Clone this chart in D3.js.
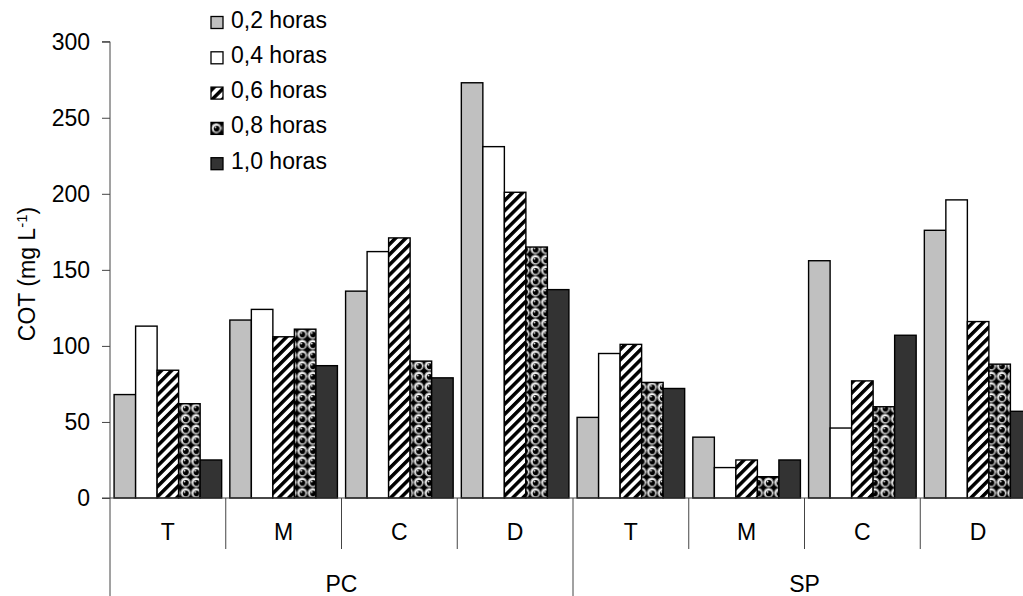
<!DOCTYPE html>
<html lang="pt">
  <head>
    <meta charset="UTF-8" />
    <title>COT</title>
    <script src="https://d3js.org/d3.v7.min.js"></script>
    <style>
      body { margin: 0; background: #fff; }
      text { font-family: "Liberation Sans", Arial, sans-serif; fill: #000; }
    </style>
  </head>
  <body>
    <div id="chart"></div>
    <script>
      // data
      const groups = ["PC", "SP"];
      const categories = ["T", "M", "C", "D", "T", "M", "C", "D"];
      const seriesNames = ["0,2 horas", "0,4 horas", "0,6 horas", "0,8 horas", "1,0 horas"];
      const h02 = [68, 117, 136, 273, 53, 40, 156, 176];
      const h04 = [113, 124, 162, 231, 95, 20, 46, 196];
      const h06 = [84, 106, 171, 201, 101, 25, 77, 116];
      const h08 = [62, 111, 90, 165, 76, 14, 60, 88];
      const h10 = [25, 87, 79, 137, 72, 25, 107, 57];
      const yTicks = [0, 50, 100, 150, 200, 250, 300];

      const seriesValues = [h02, h04, h06, h08, h10];
      const fills = ["#c0c0c0", "#ffffff", "url(#hatch)", "url(#balls)", "#333333"];

      const width = 1023, height = 596;
      const plotLeft = 110, plotRight = 1036, plotTop = 41.7, base = 498;
      const fontSize = "23px";

      const svg = d3.select("#chart").append("svg")
        .attr("width", width).attr("height", height);

      // patterns
      const defs = svg.append("defs");
      const hatch = defs.append("pattern")
        .attr("id", "hatch")
        .attr("patternUnits", "userSpaceOnUse")
        .attr("width", 7.2).attr("height", 7.2)
        .attr("patternTransform", "rotate(45)");
      hatch.append("rect").attr("width", 7.2).attr("height", 7.2).attr("fill", "#fff");
      hatch.append("rect").attr("width", 3.5).attr("height", 7.2).attr("fill", "#000");

      const balls = defs.append("pattern")
        .attr("id", "balls")
        .attr("patternUnits", "userSpaceOnUse")
        .attr("width", 10.6).attr("height", 10.6);
      balls.append("rect").attr("width", 10.6).attr("height", 10.6).attr("fill", "#000");
      balls.append("circle").attr("cx", 5.3).attr("cy", 5.3).attr("r", 4.6).attr("fill", "#fff");
      balls.append("circle").attr("cx", 5.3).attr("cy", 5.3).attr("r", 4.6)
        .attr("fill", "none").attr("stroke", "#999").attr("stroke-width", 1);
      balls.append("circle").attr("cx", 5.6).attr("cy", 5.8).attr("r", 3).attr("fill", "#000");
      balls.append("circle").attr("cx", 4.4).attr("cy", 4.4).attr("r", 0.9).attr("fill", "#fff");

      // scales
      const keys = categories.map((c, i) => i);
      const x0 = d3.scaleBand().domain(keys).range([plotLeft, plotRight]).padding(0);
      const x1 = d3.scaleBand().domain(d3.range(seriesNames.length))
        .range([0, x0.bandwidth()]).paddingInner(0).paddingOuter(0.19);
      const y = d3.scaleLinear().domain([0, 300]).range([base, plotTop]);

      // y axis
      const yAxis = svg.append("g")
        .attr("transform", `translate(${plotLeft},0)`)
        .call(d3.axisLeft(y).tickValues(yTicks).tickSize(8).tickPadding(12));
      yAxis.select(".domain").attr("stroke", "#444").attr("d", `M-8,${plotTop}H0V${base}`);
      yAxis.selectAll(".tick line").attr("stroke", "#444");
      yAxis.selectAll(".tick text")
        .style("font-size", fontSize).attr("fill", "#000")
        .attr("font-family", "Liberation Sans, Arial, sans-serif");

      // bars
      const barG = svg.append("g");
      seriesValues.forEach((vals, s) => {
        barG.selectAll(null)
          .data(vals)
          .enter()
          .append("rect")
          .attr("x", (d, i) => x0(i) + x1(s))
          .attr("y", (d) => y(d))
          .attr("width", x1.bandwidth())
          .attr("height", (d) => base - y(d))
          .attr("fill", fills[s])
          .attr("stroke", "#000")
          .attr("stroke-width", 1.4);
      });

      // x axis line
      svg.append("line")
        .attr("x1", plotLeft - 8).attr("x2", plotRight)
        .attr("y1", base).attr("y2", base)
        .attr("stroke", "#444").attr("stroke-width", 1.2);

      // separators
      keys.forEach((k) => {
        const outer = k % 4 === 0;
        svg.append("line")
          .attr("x1", x0(k)).attr("x2", x0(k))
          .attr("y1", base).attr("y2", outer ? height : 549)
          .attr("stroke", "#444").attr("stroke-width", 1);
      });
      svg.append("line")
        .attr("x1", plotRight).attr("x2", plotRight)
        .attr("y1", base).attr("y2", height)
        .attr("stroke", "#444");

      // category labels
      svg.selectAll(".cat")
        .data(categories)
        .enter()
        .append("text")
        .attr("class", "cat")
        .attr("x", (d, i) => x0(i) + x0.bandwidth() / 2)
        .attr("y", 539.5)
        .attr("text-anchor", "middle")
        .style("font-size", fontSize)
        .text((d) => d);

      // group labels
      svg.selectAll(".grp")
        .data(groups)
        .enter()
        .append("text")
        .attr("class", "grp")
        .attr("x", (d, i) => (x0(i * 4) + (x0(i * 4 + 3) + x0.bandwidth())) / 2)
        .attr("y", 591.5)
        .attr("text-anchor", "middle")
        .style("font-size", fontSize)
        .text((d) => d);

      // y label
      const yl = svg.append("text")
        .attr("transform", "translate(35,274) rotate(-90)")
        .attr("text-anchor", "middle")
        .style("font-size", fontSize);
      yl.append("tspan").text("COT (mg L");
      yl.append("tspan").attr("dy", -8).style("font-size", "15px").text("-1");
      yl.append("tspan").attr("dy", 8).text(")");

      // legend
      const legend = svg.append("g");
      seriesNames.forEach((name, i) => {
        const row = legend.append("g")
          .attr("transform", `translate(211,${27.5 + i * 35.3})`);
        row.append("rect")
          .attr("x", 0).attr("y", -11)
          .attr("width", 12).attr("height", 12)
          .attr("fill", fills[i])
          .attr("stroke", "#000").attr("stroke-width", 1.3);
        row.append("text")
          .attr("x", 20).attr("y", 0)
          .style("font-size", fontSize)
          .text(name);
      });
    </script>
  </body>
</html>
